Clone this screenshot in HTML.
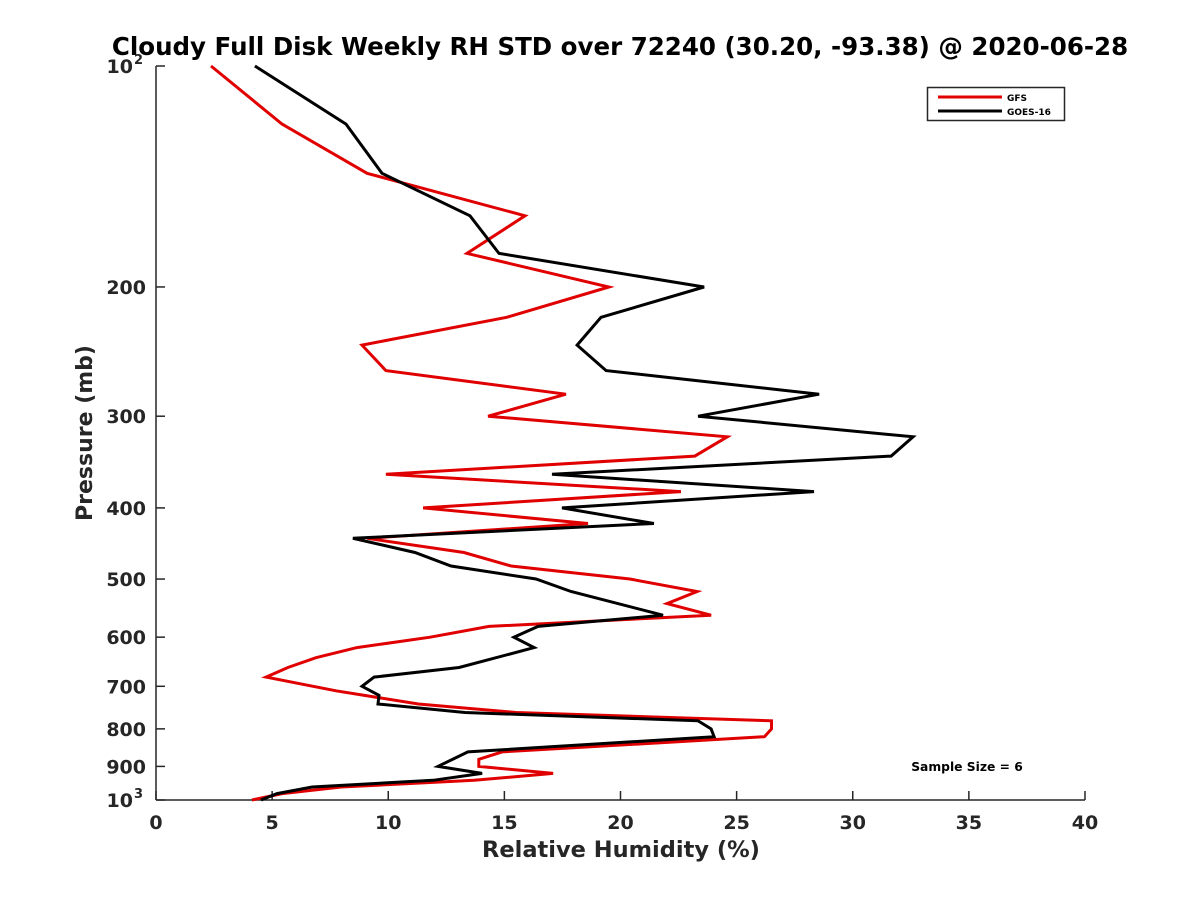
<!DOCTYPE html>
<html><head><meta charset="utf-8"><style>
body{margin:0;background:#fff;}
svg{display:block;font-family:"DejaVu Sans","Liberation Sans",sans-serif;}
</style></head><body>
<svg id="chart" width="1200" height="900" viewBox="0 0 1200 900">
<rect width="1200" height="900" fill="#fff"/>
<text x="620" y="55" text-anchor="middle" font-size="24.5" font-weight="bold" fill="#000">Cloudy Full Disk Weekly RH STD over 72240 (30.20, -93.38) @ 2020-06-28</text>
<g id="axes"></g>
<g id="series"></g>
<text x="621" y="857" text-anchor="middle" font-size="22.5" font-weight="bold" fill="#262626">Relative Humidity (%)</text>
<text transform="translate(92,433) rotate(-90)" text-anchor="middle" font-size="22" font-weight="bold" fill="#262626">Pressure (mb)</text>
<text x="967" y="771" text-anchor="middle" font-size="12.3" font-weight="bold" fill="#000">Sample Size = 6</text>
<g>
<rect x="927.5" y="87.5" width="137" height="33" fill="#fff" stroke="#262626" stroke-width="1.5"/>
<line x1="938" y1="97" x2="1002" y2="97" stroke="#e00000" stroke-width="3"/>
<text x="1007" y="101" font-size="9" font-weight="bold">GFS</text>
<line x1="938" y1="111" x2="1002" y2="111" stroke="#000" stroke-width="3"/>
<text x="1007" y="115" font-size="9" font-weight="bold">GOES-16</text>
</g>
</svg>
<script>
const xTicks = [0,5,10,15,20,25,30,35,40];
const yTicks = [200,300,400,500,600,700,800,900];
const gfsP = [100,120,140,160,180,200,220,240,260,280,300,320,340,360,380,400,420,440,460,480,500,520,540,560,580,600,620,640,660,680,710,740,760,780,800,820,860,880,900,920,940,960,980,1000];
const gfsRH = [2.37,5.43,9.09,15.89,13.39,19.5,15.1,8.87,9.9,17.65,14.3,24.6,23.2,9.9,22.6,11.5,18.6,9.09,13.26,15.29,20.4,23.3,22.0,23.9,14.34,11.8,8.65,6.89,5.68,4.74,7.75,11.3,15.5,26.5,26.5,26.2,14.9,13.9,13.9,17.1,13.7,7.97,5.43,4.13];
const goesP = [100,120,140,160,180,200,220,240,260,280,300,320,340,360,380,400,420,440,460,480,500,520,560,580,600,620,660,680,700,720,740,760,780,800,820,860,900,920,940,960,980,1000];
const goesRH = [4.26,8.18,9.73,13.52,14.77,23.6,19.16,18.13,19.38,28.55,23.34,32.6,31.65,17.05,28.33,17.48,21.44,8.48,11.15,12.7,16.36,17.87,21.83,16.45,15.41,16.28,13.05,9.39,8.87,9.6,9.56,13.3,23.34,23.9,24.03,13.43,12.14,14.04,11.93,6.72,5.21,4.52];

const X0=156,X1=1085,Y0=66,Y1=800;
const xs=v=>X0+(v-0)/40*(X1-X0);
const ys=p=>Y0+(Math.log10(p)-2)*(Y1-Y0);
const NS='http://www.w3.org/2000/svg';
function mk(tag,attrs,parent){const e=document.createElementNS(NS,tag);for(const k in attrs)e.setAttribute(k,attrs[k]);parent.appendChild(e);return e;}
const axes=document.getElementById('axes');
let a=mk('line',{x1:X0,y1:Y0,x2:X0,y2:Y1,stroke:'#262626','stroke-width':1.5},axes);


a=mk('line',{x1:X0,y1:Y1,x2:X1,y2:Y1,stroke:'#262626','stroke-width':1.5},axes);


xTicks.forEach(v=>{
  const x=xs(v);
  const t=mk('line',{x1:x,y1:Y1,x2:x,y2:Y1-9,stroke:'#262626','stroke-width':1.5},axes);
  
  
  const l=mk('text',{x:x,y:Y1+29,'text-anchor':'middle','font-size':19,'font-weight':'bold',fill:'#262626'},axes);
  l.textContent=v;
  
  
});
[100].concat(yTicks,[1000]).forEach(p=>{
  const y=ys(p);
  const t=mk('line',{x1:X0,y1:y,x2:X0+9,y2:y,stroke:'#262626','stroke-width':1.5},axes);
  
  
  const l=mk('text',{x:X0-10,y:y+7,'text-anchor':'end','font-size':19,'font-weight':'bold',fill:'#262626'},axes);
  if(p===100||p===1000){
    l.textContent='10';
    const s=mk('tspan',{dy:-9,'font-size':13},l);
    s.textContent=p===100?'2':'3';
    l.setAttribute('x',X0-23);
    s.setAttribute('x',X0-13);
  } else l.textContent=p;
  
  
});
const ser=document.getElementById('series');
function line(P,V,color,name){
  const d=P.map((p,i)=>(i?'L':'M')+xs(V[i]).toFixed(1)+','+ys(p).toFixed(1)).join('');
  const e=mk('path',{d:d,fill:'none',stroke:color,'stroke-width':3,'stroke-linejoin':'miter'},ser);
  
  
}
line(gfsP,gfsRH,'#e00000','gfs-line');
line(goesP,goesRH,'#000000','goes16-line');
</script>
</body></html>
